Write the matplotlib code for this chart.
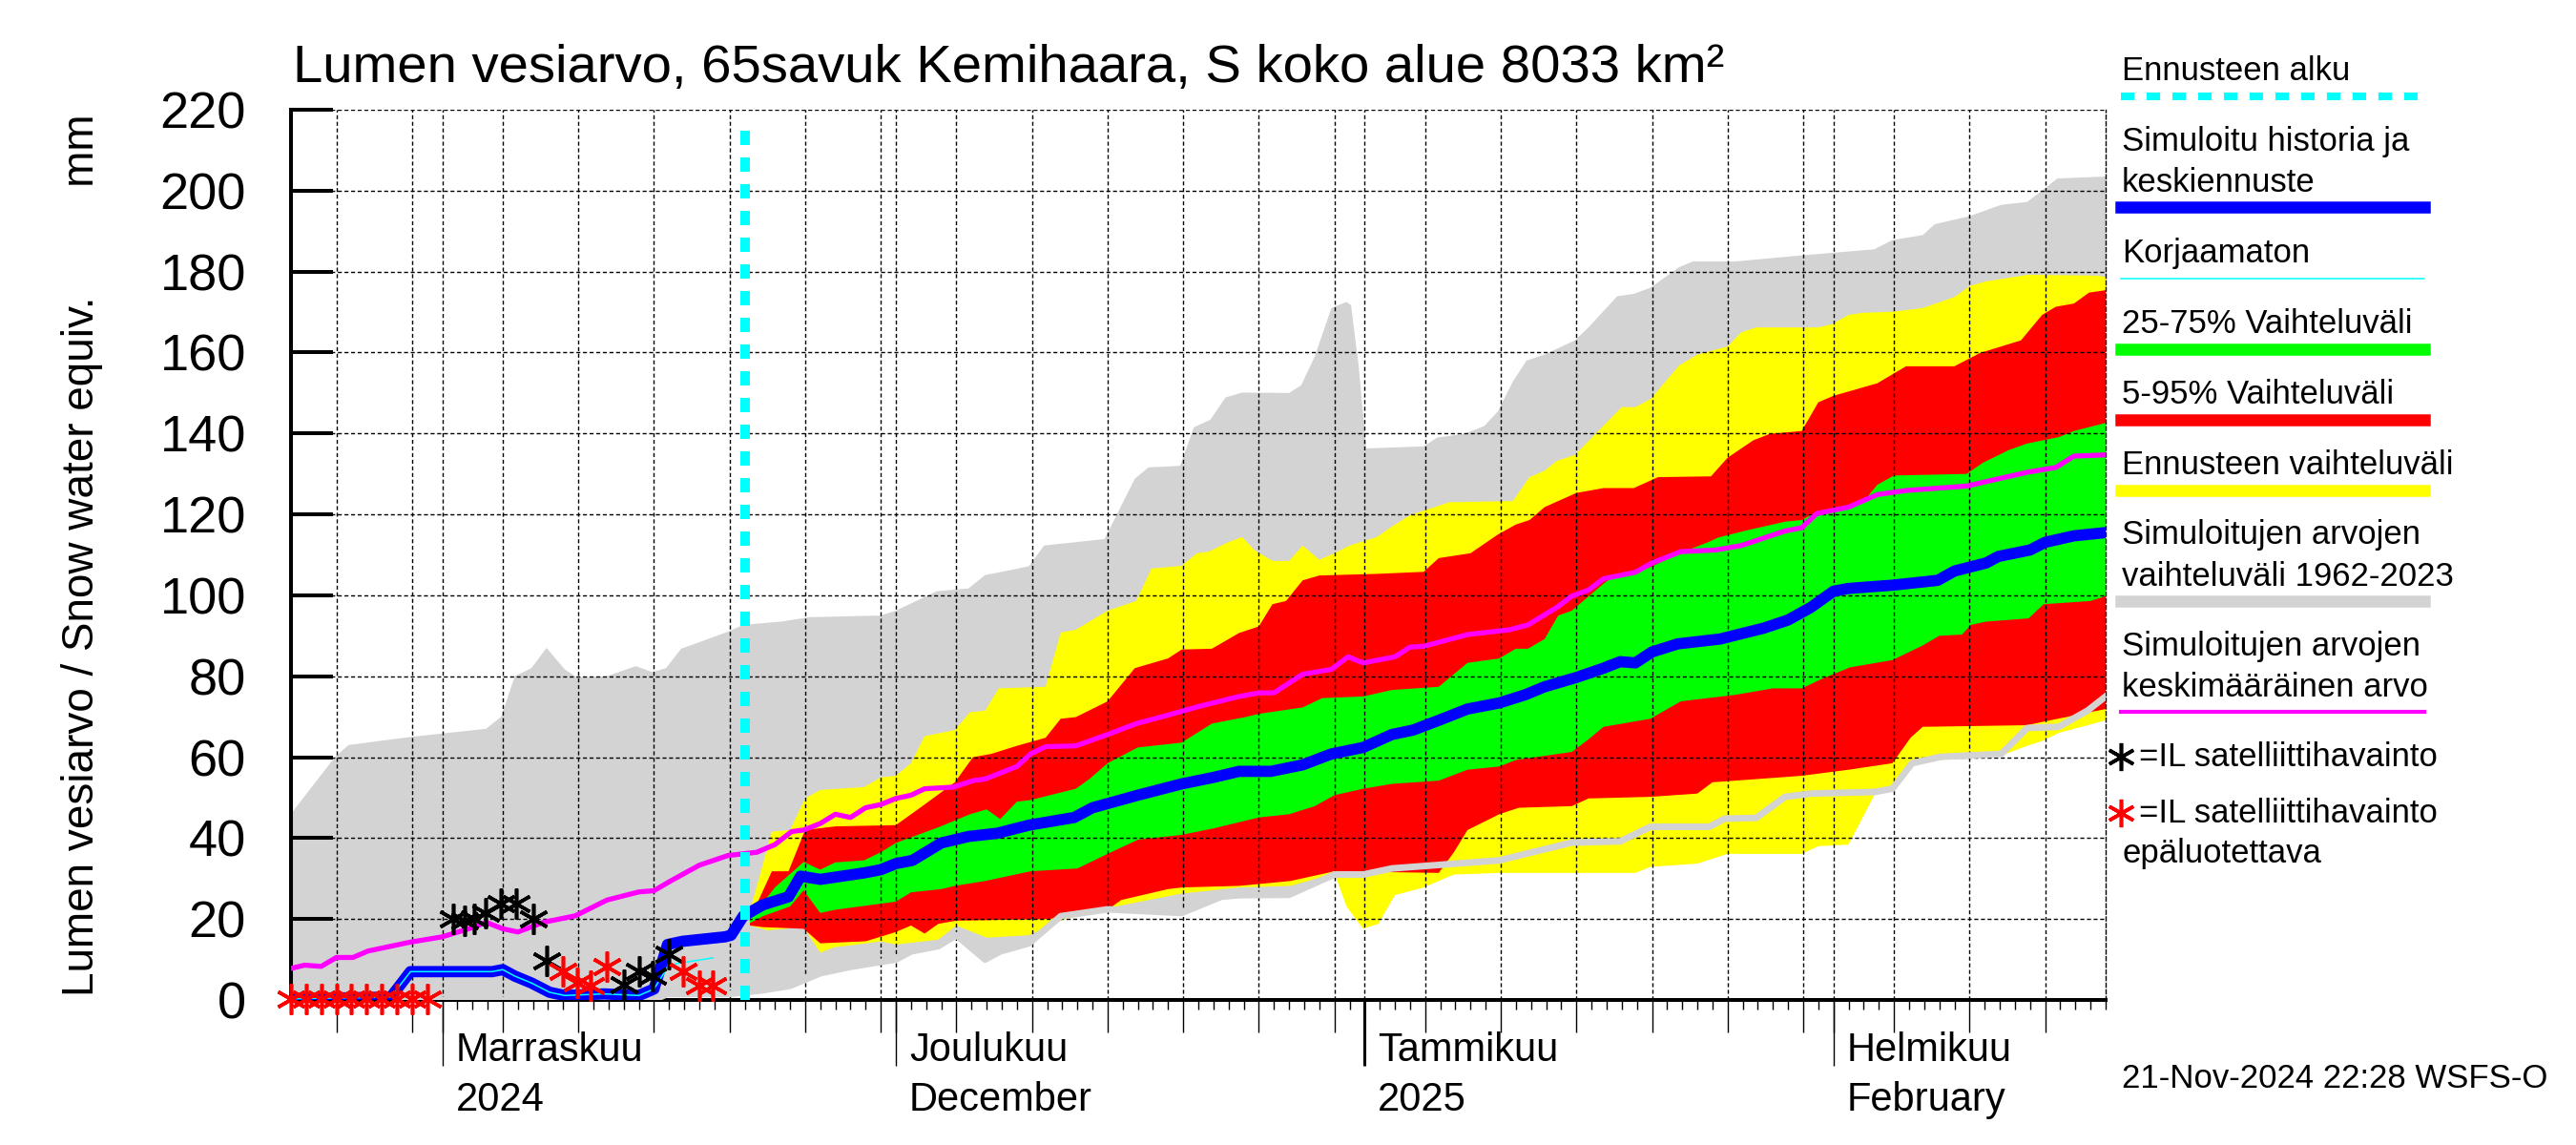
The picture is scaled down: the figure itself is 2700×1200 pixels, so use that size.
import matplotlib
matplotlib.use('Agg')
import matplotlib.pyplot as plt
import matplotlib.transforms as mtransforms
from matplotlib.lines import Line2D
import numpy as np

# fontit: Liberation Sans on lähin Helveticaa
plt.rcParams['font.family'] = ['Liberation Sans', 'DejaVu Sans']

# aika-akseli: vuorokautta alkaen 22.10.2024, loppu 19.2.2025
START = np.datetime64('2024-10-22')
N_DAYS = 120
FORECAST_DAY = 30  # 21.11.2024

TITLE = 'Lumen vesiarvo, 65savuk Kemihaara, S koko alue 8033 km\u00b2'
YLABEL = 'Lumen vesiarvo / Snow water equiv.         mm'
month_labels = ['Marraskuu\n2024', 'Joulukuu\nDecember', 'Tammikuu\n2025', 'Helmikuu\nFebruary']
y_ticks = list(range(0, 221, 20))

# Simuloitujen arvojen vaihteluväli 1962-2023 (harmaa)
gray_hi_d = [0, 2.9, 3.8, 7.9, 12.9, 13.9, 14.8, 15.9, 16.9, 18.1, 18.9, 20.9, 22.8, 23.9, 24.8,
             25.8, 27, 28.9, 29.9, 32.4, 34.3, 39, 40, 42.7, 44.8, 45.9, 47.8, 48.8, 49.8, 53.8,
             55.8, 56.7, 58.8, 59.7, 60.8, 61.8, 62.9, 66, 66.8, 67.7, 68.8, 69.8, 70.1, 70.6, 71.1,
             74.9, 75.8, 77.6, 78.9, 79.8, 80.8, 81.7, 82.9, 84.9, 85.8, 87.7, 88.8, 89.9, 91.8, 92.7,
             95.5, 99.9, 104.7, 105.9, 107.9, 108.7, 111, 113.1, 114.8, 115.8, 116.8, 120]
gray_hi_v = [46, 60, 63, 65, 67, 70, 80, 82, 87, 81.7, 79.7, 80, 82.5, 81, 82,
             86.8, 88.4, 91, 92.7, 93.5, 94.6, 95, 96.2, 101, 101.7, 105, 106.4, 107.2, 112.3, 113.9,
             128.8, 131.6, 132, 141.5, 143.4, 148.9, 150.1, 150, 151.9, 159, 171, 172.5, 171.7, 156.8, 136.3,
             136.8, 139, 139.9, 141.8, 145.4, 152.8, 158, 159.5, 163, 166.2, 173.9, 174.5, 176, 181.1, 182.5,
             182.5, 184, 185.5, 187.8, 189, 191.7, 193.7, 196.5, 197.2, 200, 203, 203.5]
gray_lo_d = [0, 24, 24.9, 29, 31.2, 33, 35, 37, 40, 41, 42.8, 44, 45.9, 46.9, 48.8, 50.9, 54, 58.9,
             61.5, 62.7, 66, 69, 70.9, 72.8, 79.9, 84.7, 87.9, 89.9, 93.8, 94.8, 96.9, 98.8, 100.5,
             104.7, 105.9, 107.2, 109.1, 113.1, 114.8, 116.9, 118.8, 120]
gray_lo_v = [0, 0, 1.5, 1.5, 2.4, 3.5, 6.6, 8.2, 10, 12, 13.3, 16, 10, 12, 14, 20.7, 22.4, 21.5,
             25.5, 25.9, 26, 31, 31, 32.5, 34.5, 38.9, 39.2, 42.8, 42.8, 44.8, 45, 50.2, 51,
             51.4, 52.2, 58.5, 60.1, 60.8, 67.2, 67.5, 71.5, 75]

# Ennusteen vaihteluväli (keltainen)
yel_hi_d = [30.35, 31.8, 33, 34, 35, 37.9, 39, 40, 41, 41.9, 43.9, 44.9, 45.9, 46.8, 49.9, 50.9, 51.9,
            54, 55.9, 56.2, 56.9, 58.9, 59.9, 60.7, 61.9, 62.9, 63.7, 64.9, 66, 66.9, 68, 69, 70, 71.8,
            72.8, 74, 76.6, 80.8, 81.9, 82.9, 83.7, 84.9, 88, 88.9, 89.9, 91.8, 93, 95, 95.9, 96.9, 101,
            101.9, 103, 103.9, 106, 107.9, 110, 111, 112.1, 114.2, 114.8, 119.4, 120]
yel_hi_v = [22, 41.6, 42, 49.8, 51.9, 52.6, 55, 55.4, 58.5, 65.2, 66.7, 71.1, 71.5, 77, 77.4, 90.8, 91.5,
            96.2, 98.6, 101, 106.6, 107.3, 110.4, 110.8, 113, 114.4, 111.2, 108.5, 108.5, 112.3, 108.8,
            110.4, 112.3, 114.4, 117, 119.8, 123, 123.3, 129.2, 130.8, 133.2, 134.7, 146.5, 146.5, 148.5,
            156.8, 159.5, 161.5, 165, 166.2, 166.2, 167, 169.3, 169.8, 170.1, 171, 173.7, 176.4, 177.6,
            178.8, 179.2, 179, 178.7]
yel_lo_d = [30.35, 31.5, 33.9, 35, 35.9, 38.1, 39, 40, 42.8, 44, 46, 48.8, 50.9, 54, 58.9, 62.7, 66.1,
            68, 69, 69.8, 70.9, 71.9, 73, 74.9, 76.9, 79.9, 88.9, 89.9, 93, 95, 99.9, 101, 103, 104.7,
            105.9, 107.2, 107.9, 113.1, 114.8, 115.8, 116.9, 120]
yel_lo_v = [18.4, 17.2, 18, 11.7, 13, 14, 14.5, 13.7, 14.9, 18.4, 15.4, 16, 19.6, 22.7, 26.3, 27.8, 28.2,
            30.2, 31.4, 23.1, 17.6, 18.8, 25.9, 27.8, 31, 31.4, 31.4, 32.9, 33.7, 36.1, 36.1, 38, 38.4,
            50.6, 52, 58.5, 59, 60.4, 62.8, 64, 66, 69.1]

# 5-95% vaihteluväli (punainen)
red_hi_d = [30.35, 31.8, 32.9, 34, 36, 40, 41.9, 43.9, 45.1, 46.3, 48, 49.9, 50.9, 51.9, 54, 55.8, 58,
            58.9, 60.9, 62.7, 64, 64.9, 65.8, 66.9, 68, 71.8, 74.9, 75.9, 78, 79.8, 81, 81.9, 82.9, 85,
            86.8, 88.8, 90.4, 93.9, 95, 96.7, 97.8, 99.9, 101, 102, 104.9, 106.8, 110, 111.7, 114.4,
            115.8, 116.7, 117.9, 118.9, 120]
red_hi_v = [20, 31.8, 31.8, 42, 42.9, 43.2, 48.3, 53.8, 60, 60.8, 62.8, 64.8, 69.5, 69.9, 73.8, 82, 84.4,
            86.6, 86.8, 90.7, 92.3, 97.8, 98.6, 103.7, 104.9, 105.3, 105.8, 109.2, 110.4, 115, 117.5,
            118.6, 121.8, 125.3, 126.5, 126.5, 129.2, 129.4, 134, 138.3, 139.9, 140.6, 147.7, 149.3,
            152.4, 156.6, 156.6, 159.9, 163, 169.3, 171.3, 172.1, 174.8, 175.4]
red_lo_d = [30.35, 31.2, 33.9, 35, 38, 40, 41, 41.9, 42.8, 44, 50.1, 54, 54.9, 58, 58.9, 62.7, 66.1, 69,
            75.9, 76.9, 77.8, 79.9, 81.2, 84.7, 85.8, 89.9, 93, 94, 95.5, 99.9, 103, 105.9, 107.1,
            107.9, 114.8, 115.8, 120]
red_lo_v = [18.4, 18, 17.6, 14, 14.5, 16.8, 18.4, 16.4, 18.8, 19.6, 20, 22.3, 24.7, 27.4, 27.8, 28.2,
            29.4, 31.8, 31.4, 36.5, 42, 45.9, 47.5, 47.9, 49.8, 50.2, 51, 53.8, 54.2, 55.4, 56.9, 58.5,
            64.8, 67.5, 67.9, 68.7, 71.9]

# 25-75% vaihteluväli (vihreä)
grn_hi_d = [30.35, 32, 33.9, 35, 36, 37.9, 39, 40, 42.9, 44.9, 46, 46.9, 48, 48.9, 51.9, 52.8, 54, 56,
            58.9, 60.9, 63.1, 64, 66.9, 68.2, 70.9, 72.8, 75.9, 77.8, 79.9, 81, 81.8, 82.9, 83.8, 84.7,
            86.8, 87.4, 89.8, 92.1, 93.7, 94.4, 96.1, 98.8, 99.9, 100.9, 103, 104.1, 104.9, 106, 110.8,
            111.9, 113.6, 114.8, 116.9, 117.9, 120]
grn_hi_v = [20, 27.8, 34.1, 32.2, 34, 34.5, 36.5, 38.8, 42.8, 45.9, 47.1, 44.7, 49, 49.4, 52.2, 54.6,
            58.5, 62.4, 63.6, 68.3, 69.9, 70.7, 72.3, 74.6, 75, 76.6, 77.4, 83.3, 84.4, 86.8, 86.8, 89.2,
            95, 96.2, 102.9, 104.5, 106.8, 110.8, 113.1, 114.3, 115.9, 118.2, 118.6, 120.6, 122.2, 123.7,
            127.3, 129.6, 130, 132.8, 135.9, 137.5, 139.1, 140.6, 142.6]
grn_lo_d = [30.35, 31.2, 33, 33.9, 35, 36, 40, 41, 43, 43.9, 45.9, 46.9, 48.9, 52, 54, 56, 58.9, 61, 64,
            66, 67.7, 69, 70.9, 72.8, 75.9, 77.8, 79.9, 81, 84.7, 85.8, 86.8, 89.9, 91.9, 95.5, 98, 99.9,
            101.2, 103.1, 105.9, 107.9, 109, 110.5, 111.1, 112.1, 114.9, 115.9, 119, 120]
grn_lo_v = [19, 20.7, 23.1, 27.1, 21.5, 22.3, 24.3, 26.6, 27.4, 28.2, 29.4, 30.2, 31.8, 32.5, 36.1, 39.6,
            40.8, 42.4, 45.1, 45.9, 47.9, 50.6, 52.2, 53.4, 54.2, 56.9, 57.7, 59.3, 61.3, 64.4, 67.5,
            69.5, 73.8, 75.4, 77, 77, 79.3, 82.2, 84, 87.6, 90, 90.3, 92.7, 93.5, 94.3, 97.8, 98.6, 99.8]

# Simuloitu historia ja keskiennuste (sininen)
blue_d = [0, 6.6, 7.9, 13.3, 14, 14.8, 15.9, 17.1, 18.1, 20.7, 23, 24, 24.9, 25.9, 28.7, 29.1, 29.9,
          31.2, 32.9, 33.7, 35, 37.9, 39, 40, 41.1, 43, 44.8, 46.7, 48.8, 51.8, 53, 56, 58.9, 61, 62.7,
          64.8, 66.9, 68.8, 70.9, 72.8, 74.2, 75.9, 77.8, 79.9, 81.6, 82.9, 85, 86.8, 87.9, 88.9, 90,
          91.7, 94.5, 97.4, 99, 100.5, 102, 103, 105.9, 108.9, 110, 112.1, 112.9, 115, 116, 117.9, 120]
blue_v = [0.3, 0.7, 7, 7, 7.5, 5.9, 4.2, 1.9, 1.1, 1.5, 1.1, 2.7, 13.7, 14.5, 15.6, 16, 20.7,
          23.5, 25.5, 30.6, 29.8, 31.4, 32.2, 33.7, 34.5, 38.8, 40.4, 41.2, 43.2, 45.1, 47.5, 50.6, 53.4,
          55, 56.5, 56.5, 58.1, 60.8, 62.4, 65.6, 66.7, 69.1, 71.9, 73.4, 75.4, 77.4, 79.7, 82, 83.6,
          83.3, 86, 88, 89.2, 91.9, 93.9, 97, 101, 101.7, 102.5, 103.7, 106, 108, 109.6, 111.2, 113.1,
          114.7, 115.5]

# Korjaamaton (ohut syaani)
corr_d = [0, 6.6, 7.9, 13.3, 14, 14.8, 15.9, 17.1, 18.1, 20.7, 23, 24, 24.9, 25.5, 27.9]
corr_v = [0.3, 0.7, 7, 7, 7.5, 5.9, 4.2, 1.9, 1.1, 1.5, 1.1, 2.7, 8, 9, 10.4]

# Simuloitujen arvojen keskimääräinen arvo (magenta)
mag_d = [0, 0.9, 2, 3, 4.1, 5.1, 7.9, 10, 12.1, 12.9, 14, 15, 16.7, 18.8, 20.9, 23, 24, 25.1, 27, 28.9,
         30.8, 32, 33.1, 33.9, 35, 36, 37, 38, 39, 40, 41, 41.9, 43.8, 45.1, 45.9, 48, 48.9, 49.9, 51.9,
         54, 55.9, 57.9, 60.1, 62.7, 64, 65, 66.9, 68.8, 69.9, 70.9, 73, 74, 74.9, 77.8, 80.6, 81.8,
         83.7, 84.7, 85.8, 86.8, 88.9, 90, 91.9, 94.2, 95.9, 98.8, 99.9, 100.9, 103, 104.9, 106.8,
         110.8, 114.8, 116.7, 117.9, 120]
mag_v = [7.8, 8.6, 8.3, 10.5, 10.5, 12.1, 14.3, 15.6, 18, 19.2, 17.6, 16.8, 19.2, 20.8, 24.7, 26.7, 27,
         29.4, 33.3, 35.7, 36.5, 38.4, 41.6, 42, 43.6, 45.9, 45.1, 47.5, 48.3, 49.8, 50.6, 52.2, 52.6,
         54.2, 54.6, 57.7, 60.8, 62.6, 62.8, 65.6, 68.3, 70.3, 72.6, 75, 75.9, 75.9, 80.5, 81.7, 84.8,
         83.3, 84.8, 87.2, 87.4, 90.3, 91.5, 92.7, 97, 99.8, 101.3, 104.1, 105.7, 108, 110.8, 111.2,
         112.3, 115.9, 116.7, 120.2, 121.8, 124.9, 125.9, 127, 130.4, 131.6, 134.4, 134.7]

# IL satelliittihavainnot
sat_d = [10.7, 11.5, 12.1, 12.9, 13.9, 14.9, 16, 16.9, 22, 23, 23.9, 25]
sat_v = [20, 19.6, 20, 21.5, 23.9, 23.9, 20, 9.7, 3.8, 7, 5.8, 11.3]
bad_d = [0, 1, 2, 3, 4, 5, 6, 7, 8, 9, 18, 18.9, 19.8, 20.9, 25.9, 27, 27.9]
bad_v = [0.3, 0.3, 0.3, 0.3, 0.3, 0.3, 0.3, 0.3, 0.3, 0.3, 7, 4.2, 3.5, 8.2, 7, 3.5, 3.5]

GRAY = '#d3d3d3'
STAR = (6, 2, 0)

W, H = 2700, 1200


def px_x(x):
    return x / W


def px_y(y):
    return 1 - y / H


def band(ax, d_hi, v_hi, d_lo, v_lo, color, z):
    """täytetty alue ylä- ja alarajan väliin"""
    xs = np.concatenate([d_hi, d_lo[::-1]])
    ys = np.concatenate([v_hi, v_lo[::-1]])
    ax.fill(xs, ys, color=color, lw=0, zorder=z)


fig = plt.figure(figsize=(W / 100, H / 100), dpi=100)
ax = fig.add_axes([px_x(305), px_y(1048), (2207 - 305) / W, (1048 - 115) / H])

band(ax, gray_hi_d, gray_hi_v, gray_lo_d, gray_lo_v, GRAY, 1.0)
band(ax, yel_hi_d, yel_hi_v, yel_lo_d, yel_lo_v, '#ffff00', 1.1)
band(ax, red_hi_d, red_hi_v, red_lo_d, red_lo_v, '#ff0000', 1.2)
band(ax, grn_hi_d, grn_hi_v, grn_lo_d, grn_lo_v, '#00ff00', 1.3)

ax.plot(gray_lo_d, gray_lo_v, color=GRAY, lw=5, zorder=3)
ax.plot(mag_d, mag_v, color='#ff00ff', lw=3.8, zorder=4)
ax.plot(blue_d, blue_v, color='#0000ff', lw=8.5, zorder=5)
ax.plot(corr_d, corr_v, color='#00ffff', lw=1.1, zorder=6)
ax.axvline(FORECAST_DAY, ymax=0.985, color='#00ffff', lw=7.2, dashes=(1.5, 1.3), zorder=7)

ax.plot(sat_d, sat_v, ls='none', marker=STAR, ms=23, mew=2.6, color='k', clip_on=False, zorder=8)
ax.plot(bad_d, bad_v, ls='none', marker=STAR, ms=23, mew=2.6, color='#ff0000', clip_on=False, zorder=8)

# akselit
ax.set_xlim(0, N_DAYS)
ax.set_ylim(0, 220)
ax.set_yticks(y_ticks)
ax.tick_params(axis='y', direction='in', length=32, width=2.9, labelsize=39, pad=34, right=False)

day_dates = START + np.arange(N_DAYS + 1).astype('timedelta64[D]')
dom = (day_dates - day_dates.astype('datetime64[M]')).astype(int) + 1
grid_days = np.where(np.isin(dom, [1, 5, 10, 15, 20, 25, 30]))[0]
month_days = np.where(dom == 1)[0]

ax.set_xticks(grid_days)
ax.set_xticks(np.arange(N_DAYS + 1), minor=True)
ax.tick_params(axis='x', which='major', direction='out', length=24.5, width=1, labelbottom=False)
ax.tick_params(axis='x', which='minor', direction='out', length=7, width=1)
ax.grid(True, which='major', color='k', lw=1, linestyle=(0, (3, 2)))
ax.set_axisbelow(False)

ax.spines['left'].set_linewidth(2.9)
ax.spines['bottom'].set_linewidth(2.9)
ax.spines['top'].set_visible(False)
ax.spines['right'].set_linewidth(1)
ax.spines['right'].set_linestyle((0, (3, 2)))

# kuukausien pitkät tikit
ax2 = ax.twiny()
ax2.set_xlim(0, N_DAYS)
ax2.set_xticks(month_days)
ax2.xaxis.set_ticks_position('bottom')
ax2.tick_params(axis='x', which='major', direction='out', length=50, width=1,
                labelbottom=False, labeltop=False, top=False, bottom=True)
for s in ax2.spines.values():
    s.set_visible(False)
for t, d in zip(ax2.xaxis.get_major_ticks(), month_days):
    if day_dates[d].astype('datetime64[M]').astype(int) % 12 == 0:  # tammikuu
        t.tick1line.set_markeredgewidth(2.2)

trans = mtransforms.offset_copy(ax.get_xaxis_transform(), fig=fig, x=14, y=-33, units='dots')
for d, lab in zip(month_days, month_labels):
    ax.text(d, 0, lab, transform=trans, fontsize=30, ha='left', va='top', linespacing=1.4)

fig.text(px_x(307), px_y(86), TITLE, fontsize=40.5, ha='left', va='baseline')
fig.text(px_x(86), px_y(581.5), YLABEL, fontsize=33, rotation=90, ha='center', va='center')

# selite oikealla
LEG_X0, LEG_X1 = 2223, 2541


def legend_line(y, **kw):
    fig.add_artist(Line2D([px_x(LEG_X0), px_x(LEG_X1)], [px_y(y)] * 2, **kw))


def legend_text(x, y, s):
    fig.text(px_x(x), px_y(y), s, fontsize=25, ha='left', va='baseline')


legend_text(2224, 84, 'Ennusteen alku')
legend_line(101, color='#00ffff', lw=5.8, dashes=(1.75, 1.6))
legend_text(2224, 158, 'Simuloitu historia ja')
legend_text(2224, 201, 'keskiennuste')
legend_line(217, color='#0000ff', lw=9)
legend_text(2224, 275.5, 'Korjaamaton')
legend_line(291.5, color='#00ffff', lw=1.1)
legend_text(2224, 349, '25-75% Vaihteluväli')
legend_line(365.5, color='#00ff00', lw=9)
legend_text(2224, 423, '5-95% Vaihteluväli')
legend_line(439.5, color='#ff0000', lw=9)
legend_text(2224, 496.5, 'Ennusteen vaihteluväli')
legend_line(513.5, color='#ffff00', lw=9)
legend_text(2224, 570, 'Simuloitujen arvojen')
legend_text(2224, 613.5, 'vaihteluväli 1962-2023')
legend_line(630, color=GRAY, lw=9)
legend_text(2224, 687, 'Simuloitujen arvojen')
legend_text(2224, 730, 'keskimääräinen arvo')
legend_line(746, color='#ff00ff', lw=3)
fig.add_artist(Line2D([px_x(2223)], [px_y(793)], ls='none', marker=STAR, ms=21, mew=2.6, color='k'))
legend_text(2242, 803, '=IL satelliittihavainto')
fig.add_artist(Line2D([px_x(2223)], [px_y(852)], ls='none', marker=STAR, ms=21, mew=2.6, color='#ff0000'))
legend_text(2242, 861.5, '=IL satelliittihavainto')
legend_text(2224, 904, 'epäluotettava')
legend_text(2224, 1140, '21-Nov-2024 22:28 WSFS-O')

fig.savefig('out.png', dpi=100)
